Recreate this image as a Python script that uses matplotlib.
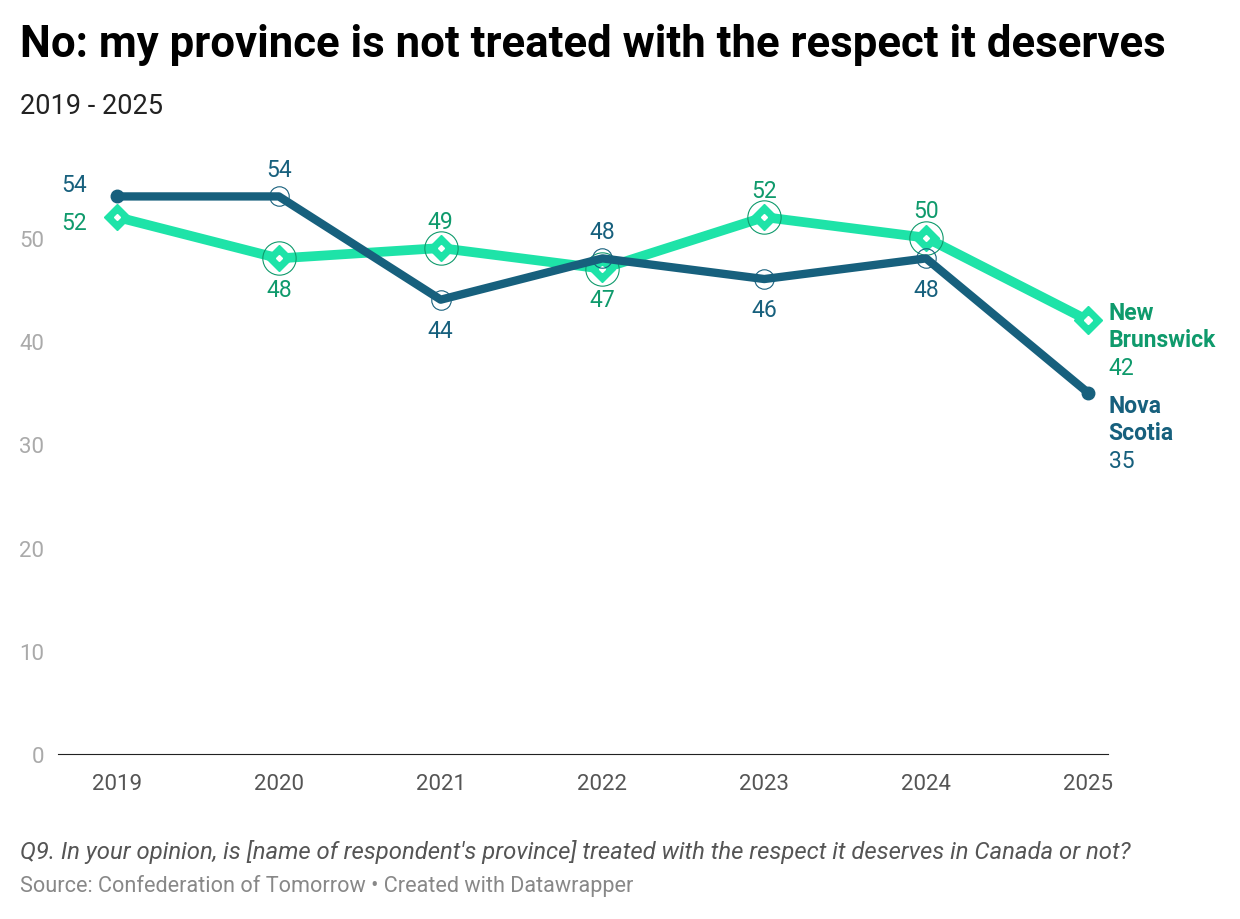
import matplotlib.pyplot as plt

years = [2019, 2020, 2021, 2022, 2023, 2024, 2025]
nova_scotia = [54, 54, 44, 48, 46, 48, 35]
new_brunswick = [52, 48, 49, 47, 52, 50, 42]
ns_pos = ['left', 'above', 'below', 'above', 'below', 'below', None]
nb_pos = ['left', 'below', 'above', 'below', 'above', 'above', None]

NS = '#17607d'
NB = '#1ee3a8'
NB_TXT = '#0f9a6c'
FS = 16.5

plt.rcParams['font.family'] = ['Roboto', 'DejaVu Sans']
fig = plt.figure(figsize=(12.4, 9.2), dpi=100)
ax = fig.add_axes([0.0468, 0.1793, 0.8467, 0.651])

ax.plot(years, new_brunswick, color=NB, lw=7, solid_joinstyle='round', zorder=2)
ax.plot(years[:-1], new_brunswick[:-1], 'D', color=NB, ms=13, zorder=3)
ax.plot(years[:-1], new_brunswick[:-1], 'D', color='white', ms=3, zorder=4)
ax.plot(years[-1], new_brunswick[-1], 'D', color=NB, ms=14, zorder=3)
ax.plot(years[-1], new_brunswick[-1], 'D', color='white', ms=4, zorder=4)
ax.plot(years[1:-1], new_brunswick[1:-1], 'o', mfc='none', mec=NB_TXT, mew=0.8, ms=24, zorder=5)

ax.plot(years, nova_scotia, color=NS, lw=6, solid_joinstyle='round', zorder=6)
ax.plot([years[0], years[-1]], [nova_scotia[0], nova_scotia[-1]], 'o', color=NS, ms=9, zorder=7)
ax.plot(years[1:-1], nova_scotia[1:-1], 'o', mfc='none', mec=NS, mew=0.8, ms=14, zorder=7)

def label(x, y, pos, color):
    if pos == 'left':
        ax.annotate(str(y), (x, y), xytext=(-22, 0 if color == NS else -4), textcoords='offset points',
                    ha='right', va='bottom' if color == NS else 'center', color=color, fontsize=FS)
    elif pos == 'above':
        ax.annotate(str(y), (x, y), xytext=(0, 11), textcoords='offset points',
                    ha='center', va='bottom', color=color, fontsize=FS)
    elif pos == 'below':
        ax.annotate(str(y), (x, y), xytext=(0, -14), textcoords='offset points',
                    ha='center', va='top', color=color, fontsize=FS)

for x, y, p in zip(years, nova_scotia, ns_pos):
    label(x, y, p, NS)
for x, y, p in zip(years, new_brunswick, nb_pos):
    label(x, y, p, NB_TXT)

ax.annotate('New\nBrunswick', (years[-1], new_brunswick[-1]), xytext=(15, -4), textcoords='offset points',
            ha='left', va='center', color=NB_TXT, fontsize=FS, fontweight='bold', linespacing=1.25, annotation_clip=False)
ax.annotate(str(new_brunswick[-1]), (years[-1], new_brunswick[-1]), xytext=(15, -34), textcoords='offset points',
            ha='left', va='center', color=NB_TXT, fontsize=FS, annotation_clip=False)
ax.annotate('Nova\nScotia', (years[-1], nova_scotia[-1]), xytext=(15, -19), textcoords='offset points',
            ha='left', va='center', color=NS, fontsize=FS, fontweight='bold', linespacing=1.25, annotation_clip=False)
ax.annotate(str(nova_scotia[-1]), (years[-1], nova_scotia[-1]), xytext=(15, -49), textcoords='offset points',
            ha='left', va='center', color=NS, fontsize=FS, annotation_clip=False)

ax.set_xlim(2018.635, 2025.124)
ax.set_ylim(0, 58)
ax.set_xticks(years)
ax.set_yticks([0, 10, 20, 30, 40, 50])
for s in ['top', 'right', 'left']:
    ax.spines[s].set_visible(False)
ax.spines['bottom'].set_color('#222222')
ax.tick_params(axis='x', length=0, pad=14, labelsize=16, labelcolor='#555555')
ax.tick_params(axis='y', length=0, pad=10, labelsize=16, labelcolor='#aaaaaa')

fig.text(0.016, 0.951, 'No: my province is not treated with the respect it deserves',
         fontsize=31.5, fontweight='bold', color='black', va='center')
fig.text(0.016, 0.884, '2019 - 2025', fontsize=19.5, color='#222222', va='center')
fig.text(0.016, 0.074, "Q9. In your opinion, is [name of respondent's province] treated with the respect it deserves in Canada or not?",
         fontsize=17.2, style='italic', color='#555555', va='center')
fig.text(0.016, 0.037, 'Source: Confederation of Tomorrow • Created with Datawrapper',
         fontsize=15.6, color='#888888', va='center')

fig.savefig('out.png', dpi=100)
